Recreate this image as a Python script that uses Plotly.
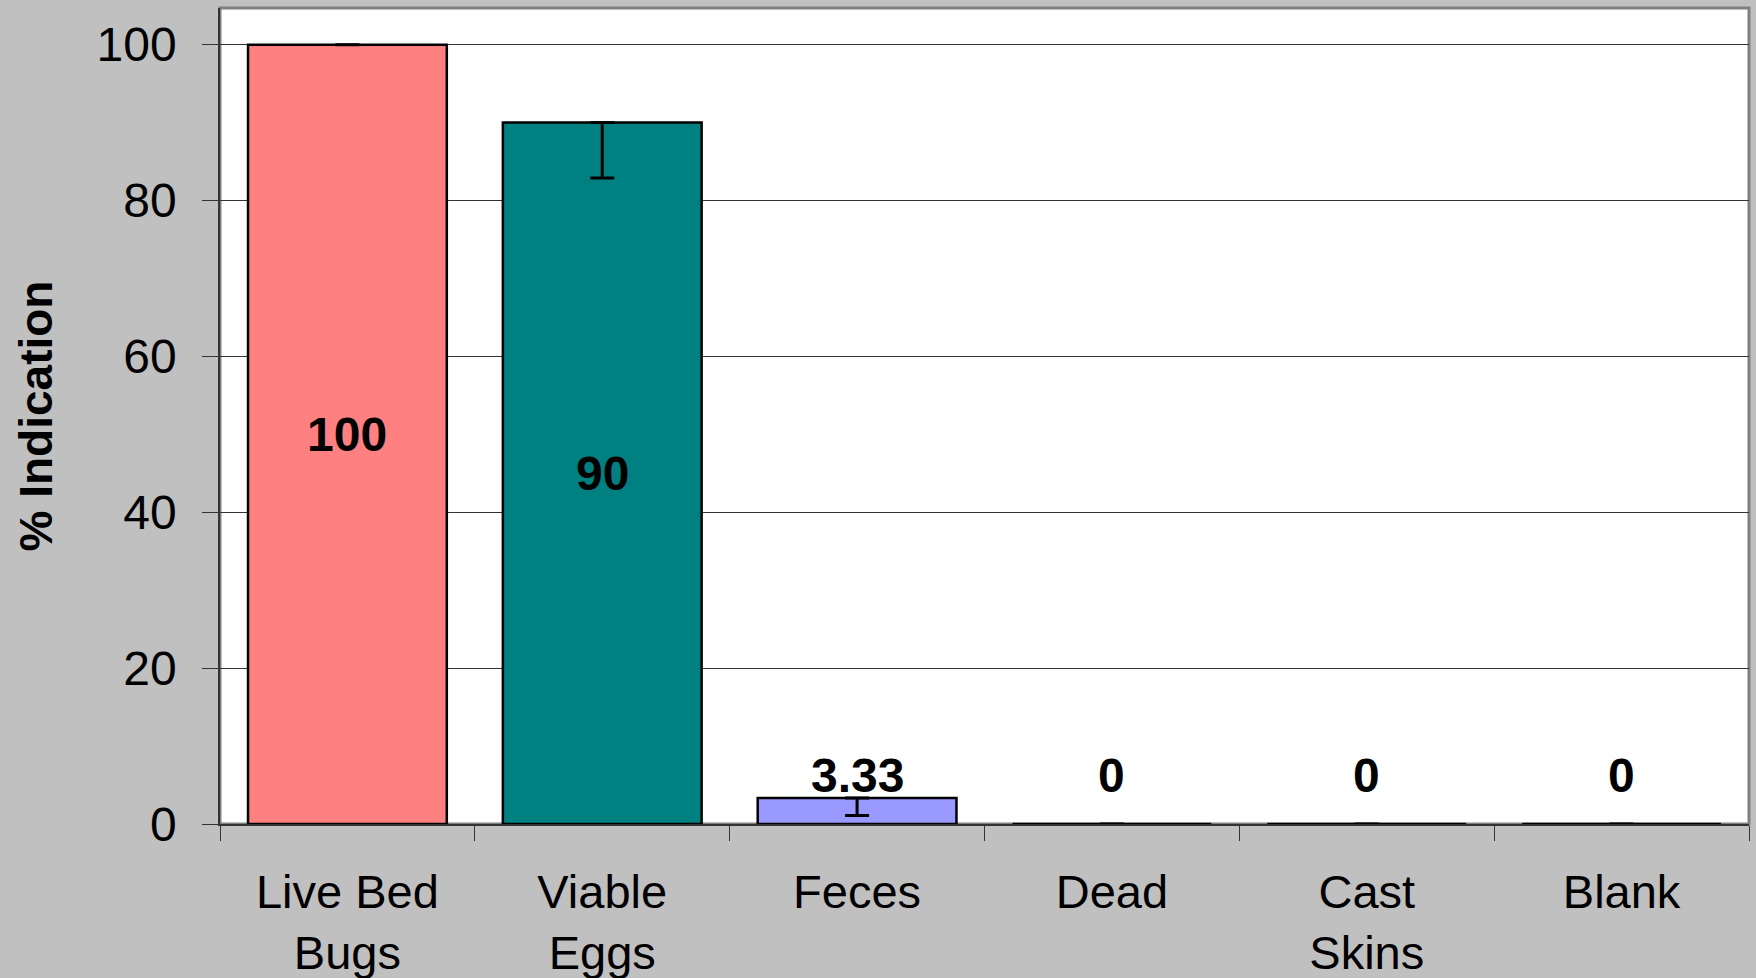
import plotly.graph_objects as go

categories = ["Live Bed<br>Bugs", "Viable<br>Eggs", "Feces", "Dead", "Cast<br>Skins", "Blank"]
values = [100, 90, 3.33, 0, 0, 0]
err_minus = [0, 7.1, 2.25, 0, 0, 0]
labels = ["100", "90", "3.33", "0", "0", "0"]
colors = ["#FF8080", "#008080", "#9999FF", "#9999FF", "#9999FF", "#9999FF"]
y_ticks = [0, 20, 40, 60, 80, 100]

FONT = "Liberation Sans, Arial, sans-serif"
small_label_level = 6.2

fig = go.Figure()
fig.add_trace(go.Bar(
    x=categories, y=values,
    marker=dict(color=colors, line=dict(color="#000000", width=2.5)),
    error_y=dict(type="data", symmetric=False, array=[0] * len(values),
                 arrayminus=err_minus, color="#000000", thickness=3, width=12),
    width=0.78,
    showlegend=False,
))

for c, v, t in zip(categories, values, labels):
    y = v / 2 if v / 2 > small_label_level else small_label_level
    fig.add_annotation(x=c, y=y, xref="x", yref="y", text="<b>%s</b>" % t,
                       showarrow=False, yanchor="middle",
                       font=dict(family=FONT, size=48, color="#000000"))

fig.add_shape(type="rect", xref="paper", yref="paper", x0=0, x1=1, y0=0, y1=1,
              line=dict(color="#808080", width=3), layer="below")

fig.update_layout(
    width=1756, height=978,
    paper_bgcolor="#C0C0C0", plot_bgcolor="#FFFFFF",
    margin=dict(l=220, r=7, t=8, b=154),
    font=dict(family=FONT, size=48, color="#000000"),
    bargap=0.22,
)
fig.update_xaxes(
    showgrid=False, tickson="boundaries", ticks="outside", ticklen=15,
    tickcolor="#333333", tickwidth=1, showline=True, linecolor="#333333",
    linewidth=1.5, tickfont=dict(size=47), ticklabelstandoff=26,
    automargin=False,
)
fig.update_yaxes(
    range=[0, 104.7], tickvals=y_ticks, ticks="outside", ticklen=16,
    tickcolor="#333333", tickwidth=1, showgrid=True, gridcolor="#333333",
    gridwidth=1, showline=True, linecolor="#333333", linewidth=1.5,
    tickfont=dict(size=48), ticklabelstandoff=16, zeroline=False,
    title=dict(text="<b>% Indication</b>", font=dict(size=46), standoff=29),
    automargin=False,
)

fig.write_html(
    "out.html",
    config={"displayModeBar": False},
    post_script="document.body.style.margin='0px';document.body.style.overflow='hidden';",
)
